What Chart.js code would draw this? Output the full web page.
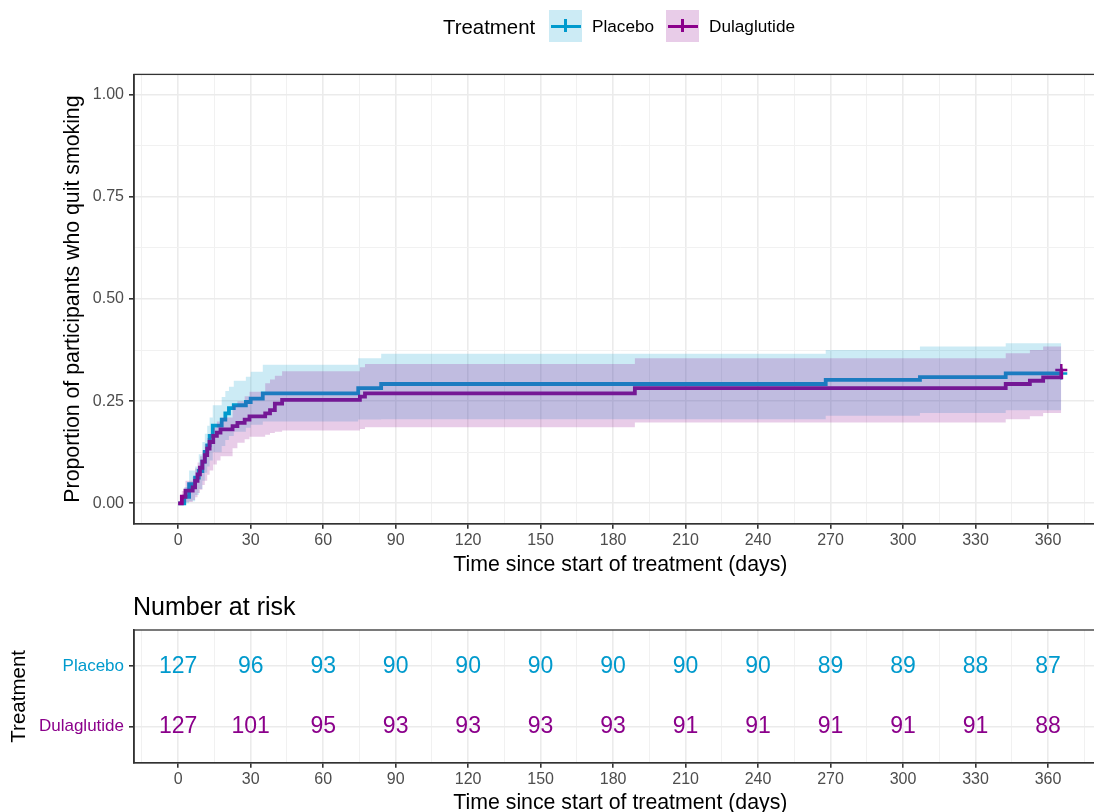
<!DOCTYPE html>
<html>
<head>
<meta charset="utf-8">
<script src="https://cdn.jsdelivr.net/npm/chart.js@4.4.0/dist/chart.umd.min.js"></script>
<style>
html,body{margin:0;padding:0;background:#fff;overflow:hidden;width:1094px;height:812px;}
#wrap{position:relative;width:1094px;height:812px;overflow:hidden;background:#fff;}
.abs{position:absolute;white-space:nowrap;font-family:"Liberation Sans",Arial,Helvetica,sans-serif;color:#000;}
.key{position:absolute;width:33px;height:32px;}
.key .h{position:absolute;left:1.5px;top:14.6px;width:30px;height:3.4px;}
.key .v{position:absolute;left:15.2px;top:8.5px;width:2.6px;height:13px;}
canvas{position:absolute;left:0;}
</style>
</head>
<body>
<div id="wrap">
  <canvas id="main" width="1110" height="590" style="top:0px"></canvas>
  <canvas id="risk" width="1110" height="240" style="top:590px"></canvas>

  <div class="abs" style="left:443px;top:17px;font-size:20.4px;line-height:20.4px;">Treatment</div>
  <div class="key" style="left:549px;top:10px;background:#CCEBF5;"><div class="h" style="background:#009ACD"></div><div class="v" style="background:#009ACD"></div></div>
  <div class="abs" style="left:592px;top:18px;font-size:17.2px;line-height:17.2px;">Placebo</div>
  <div class="key" style="left:666px;top:10px;background:#E8CCE8;"><div class="h" style="background:#8B008B"></div><div class="v" style="background:#8B008B"></div></div>
  <div class="abs" style="left:709px;top:18px;font-size:17.2px;line-height:17.2px;">Dulaglutide</div>

  <div class="abs" style="left:133px;top:594px;font-size:25px;line-height:25px;">Number at risk</div>
</div>
<script>
// ---------------- data ----------------
const groupNames = ['Placebo', 'Dulaglutide'];

const placeboTime  = [0, 2.5, 4.5, 7, 8.5, 10, 11, 12, 13, 14.3, 18, 19.5, 21, 23, 28, 30, 35, 74.5, 84, 268, 307, 342.5, 365.5];
const placeboEst   = [0, 0.016, 0.047, 0.063, 0.079, 0.102, 0.126, 0.142, 0.165, 0.19, 0.205, 0.22, 0.233, 0.24, 0.248, 0.256, 0.269, 0.282, 0.292, 0.302, 0.309, 0.318, 0.318];
const placeboLower = [0, 0, 0.005, 0.02, 0.035, 0.055, 0.075, 0.09, 0.105, 0.125, 0.14, 0.155, 0.165, 0.175, 0.185, 0.192, 0.2, 0.205, 0.206, 0.214, 0.221, 0.228, 0.228];
const placeboUpper = [0, 0.04, 0.08, 0.09, 0.12, 0.15, 0.17, 0.19, 0.21, 0.24, 0.26, 0.275, 0.285, 0.3, 0.31, 0.322, 0.339, 0.355, 0.366, 0.375, 0.384, 0.392, 0.392];

const dulaTime  = [0, 1.5, 3, 6, 7, 8, 9, 10, 11, 12, 13, 14.5, 16, 17.5, 22.5, 24.5, 27.5, 29.5, 36, 38, 40, 43, 75.2, 77.3, 189, 342.5, 352.5, 358, 365.5];
const dulaEst   = [0, 0.016, 0.031, 0.039, 0.055, 0.071, 0.087, 0.102, 0.118, 0.134, 0.15, 0.165, 0.173, 0.181, 0.189, 0.197, 0.205, 0.213, 0.22, 0.228, 0.244, 0.253, 0.261, 0.269, 0.282, 0.292, 0.3, 0.308, 0.326];
const dulaLower = [0, 0, 0.003, 0.008, 0.015, 0.025, 0.033, 0.045, 0.055, 0.07, 0.08, 0.095, 0.105, 0.115, 0.135, 0.148, 0.157, 0.163, 0.168, 0.172, 0.175, 0.178, 0.182, 0.186, 0.198, 0.206, 0.213, 0.221, 0.221];
const dulaUpper = [0, 0.03, 0.055, 0.065, 0.085, 0.1, 0.115, 0.13, 0.145, 0.16, 0.17, 0.185, 0.2, 0.21, 0.24, 0.25, 0.262, 0.273, 0.294, 0.303, 0.312, 0.323, 0.333, 0.341, 0.355, 0.367, 0.375, 0.384, 0.384];

const riskTimes   = [0, 30, 60, 90, 120, 150, 180, 210, 240, 270, 300, 330, 360];
const riskPlacebo = [127, 96, 93, 90, 90, 90, 90, 90, 90, 89, 89, 88, 87];
const riskDula    = [127, 101, 95, 93, 93, 93, 93, 91, 91, 91, 91, 91, 88];

const xTicks = [0, 30, 60, 90, 120, 150, 180, 210, 240, 270, 300, 330, 360];
const yTicks = [0, 0.25, 0.5, 0.75, 1];

// ---------------- styles ----------------
const placeboColor = '#009ACD';
const dulaColor = '#8B008B';
const placeboFill = 'rgba(0,154,205,0.2)';
const dulaFill = 'rgba(139,0,139,0.2)';
const FONT = "'Liberation Sans', Arial, Helvetica, sans-serif";

Chart.defaults.font.family = FONT;
Chart.defaults.color = '#4D4D4D';
Chart.defaults.animation = false;

const pts = (t, v) => t.map((x, i) => ({x: x, y: v[i]}));

// minor gridlines halfway between major ticks
function withMinor(major) {
  const step = major[1] - major[0];
  const out = [major[0] - step / 2];
  major.forEach(v => { out.push(v); out.push(v + step / 2); });
  return out;
}
const isIn = (arr, v) => arr.some(a => Math.abs(a - v) < 1e-9);

function gridFor(majors) {
  return {
    color: c => (c.tick && isIn(majors, c.tick.value)) ? '#EBEBEB' : '#F1F1F1',
    lineWidth: c => (c.tick && isIn(majors, c.tick.value)) ? 1.6 : 1,
    tickColor: c => (c.tick && isIn(majors, c.tick.value)) ? '#333333' : 'rgba(0,0,0,0)',
    tickWidth: 1.6,
    tickLength: 5,
    drawTicks: true,
    drawOnChartArea: true
  };
}

const panelBorder = {
  id: 'panelBorder',
  afterDraw(chart) {
    const {ctx, chartArea: a} = chart;
    ctx.save();
    ctx.strokeStyle = '#333333';
    ctx.lineWidth = 1.3;
    ctx.strokeRect(a.left, a.top, a.right - a.left, a.bottom - a.top);
    ctx.restore();
  }
};

const xMin = -18.3, xMax = 384.3;

function xScale(titlePadBottom, height) {
  return {
    type: 'linear', min: xMin, max: xMax,
    afterBuildTicks: s => { s.ticks = withMinor(xTicks).filter(v => v > xMin && v < xMax).map(v => ({value: v})); },
    afterFit: s => { s.height = height; s.paddingLeft = 0; s.paddingRight = 0; },
    ticks: {
      autoSkip: false, maxRotation: 0, padding: 2,
      font: {size: 16}, color: '#4D4D4D',
      callback: v => isIn(xTicks, v) ? String(v) : ''
    },
    grid: gridFor(xTicks),
    border: {display: true, color: '#333333', width: 1.6},
    title: {display: true, text: 'Time since start of treatment (days)', color: '#000', font: {size: 21.3}, padding: {top: 0, bottom: titlePadBottom}}
  };
}

// ---------------- main chart ----------------
const lastIdx = arr => arr.length - 1;
new Chart(document.getElementById('main'), {
  type: 'line',
  data: {
    datasets: [
      {label: 'Placebo', data: pts(placeboTime, placeboEst), borderColor: placeboColor, borderWidth: 3.8, stepped: true, fill: false,
       pointStyle: 'cross', pointRadius: c => c.dataIndex === lastIdx(placeboTime) ? 6 : 0, pointBorderWidth: 2.5, pointBorderColor: placeboColor, order: 10},
      {label: 'Dulaglutide', data: pts(dulaTime, dulaEst), borderColor: dulaColor, borderWidth: 3.8, stepped: true, fill: false,
       pointStyle: 'cross', pointRadius: c => c.dataIndex === lastIdx(dulaTime) ? 6 : 0, pointBorderWidth: 2.5, pointBorderColor: dulaColor, order: 9},
      {label: 'pu', data: pts(placeboTime, placeboUpper), borderWidth: 0, borderColor: 'rgba(0,0,0,0)', pointRadius: 0, stepped: true,
       backgroundColor: placeboFill, fill: {target: 3}, order: 2},
      {label: 'pl', data: pts(placeboTime, placeboLower), borderWidth: 0, borderColor: 'rgba(0,0,0,0)', pointRadius: 0, stepped: true, fill: false, order: 2},
      {label: 'du', data: pts(dulaTime, dulaUpper), borderWidth: 0, borderColor: 'rgba(0,0,0,0)', pointRadius: 0, stepped: true,
       backgroundColor: dulaFill, fill: {target: 5}, order: 1},
      {label: 'dl', data: pts(dulaTime, dulaLower), borderWidth: 0, borderColor: 'rgba(0,0,0,0)', pointRadius: 0, stepped: true, fill: false, order: 1}
    ]
  },
  options: {
    responsive: false,
    animation: false,
    layout: {autoPadding: false, padding: {top: 74.4, left: 0, right: 3.3, bottom: 0}},
    plugins: {legend: {display: false}, tooltip: {enabled: false}},
    scales: {
      x: xScale(12.3, 66.3),
      y: {
        type: 'linear', min: -0.05, max: 1.05,
        afterBuildTicks: s => { s.ticks = withMinor(yTicks).filter(v => v > -0.05 && v < 1.05).map(v => ({value: v})); },
        afterFit: s => { s.width = 134; },
        ticks: {padding: 5, font: {size: 16}, color: '#4D4D4D',
          callback: v => isIn(yTicks, v) ? v.toFixed(2) : ''},
        grid: gridFor(yTicks),
        border: {display: true, color: '#333333', width: 1.6},
        title: {display: true, text: 'Proportion of participants who quit smoking', color: '#000', font: {size: 21.3}, padding: {top: 60.3, bottom: 0}}
      }
    }
  },
  plugins: [panelBorder]
});

// ---------------- risk table ----------------
const riskText = {
  id: 'riskText',
  afterDatasetsDraw(chart) {
    const ctx = chart.ctx;
    chart.data.datasets.forEach((ds, di) => {
      const meta = chart.getDatasetMeta(di);
      ctx.save();
      ctx.fillStyle = ds.textColor;
      ctx.font = '23px ' + FONT;
      ctx.textAlign = 'center';
      ctx.textBaseline = 'middle';
      meta.data.forEach((el, i) => { ctx.fillText(String(ds.counts[i]), el.x, el.y); });
      ctx.restore();
    });
  }
};

new Chart(document.getElementById('risk'), {
  type: 'scatter',
  data: {
    datasets: [
      {data: riskTimes.map(t => ({x: t, y: 1})), counts: riskPlacebo, textColor: placeboColor, pointRadius: 0, showLine: false},
      {data: riskTimes.map(t => ({x: t, y: 2})), counts: riskDula, textColor: dulaColor, pointRadius: 0, showLine: false}
    ]
  },
  options: {
    responsive: false,
    animation: false,
    layout: {autoPadding: false, padding: {top: 40, left: 0, right: 3.3, bottom: 0}},
    plugins: {legend: {display: false}, tooltip: {enabled: false}},
    scales: {
      x: xScale(14.2, 67.3),
      y: {
        type: 'linear', min: 0.4, max: 2.6, reverse: true,
        afterBuildTicks: s => { s.ticks = [{value: 1}, {value: 2}]; },
        afterFit: s => { s.width = 134; },
        ticks: {padding: 5, font: {size: 17},
          color: c => (c.tick && c.tick.value === 1) ? placeboColor : dulaColor,
          callback: v => groupNames[v - 1] || ''},
        grid: {color: '#EBEBEB', lineWidth: 1.6, tickColor: '#333333', tickWidth: 1.6, tickLength: 5},
        border: {display: true, color: '#333333', width: 1.6},
        title: {display: true, text: 'Treatment', color: '#000', font: {size: 20.5}, padding: {top: 7.3, bottom: 0}}
      }
    }
  },
  plugins: [panelBorder, riskText]
});
</script>
</body>
</html>
